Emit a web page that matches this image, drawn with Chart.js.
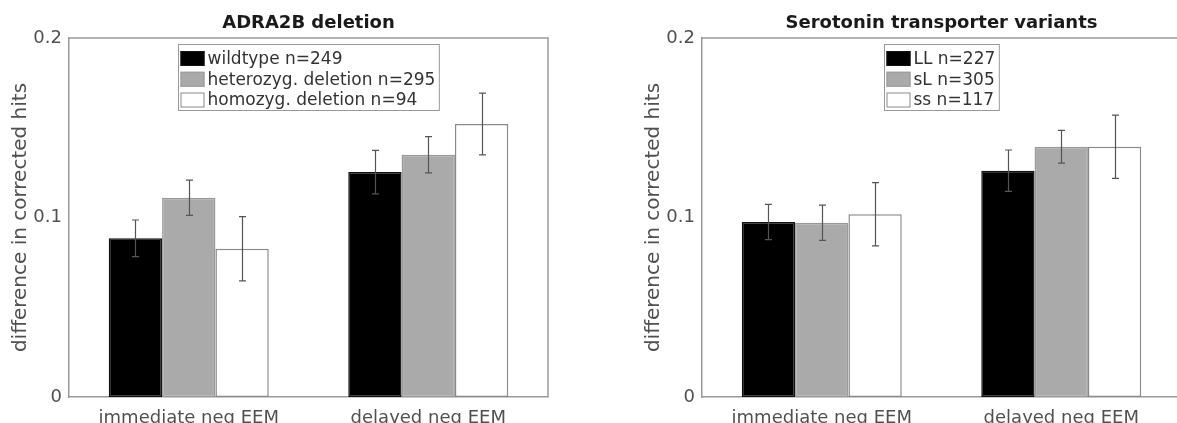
<!DOCTYPE html>
<html><head><meta charset="utf-8">
<script src="https://cdn.jsdelivr.net/npm/chart.js@4/dist/chart.umd.min.js"></script>
<style>
html,body{margin:0;padding:0;background:#fff;overflow:hidden;width:1177px;height:423px;}
#wrap{position:relative;width:1177px;height:423px;overflow:hidden;background:#fff;}
#c1{position:absolute;left:0;top:0;}
#c2{position:absolute;left:633px;top:0;}
</style></head><body>
<div id="wrap"><canvas id="c1" width="633" height="423"></canvas><canvas id="c2" width="633" height="423"></canvas></div>
<script>
const categories = ['immediate neg EEM', 'delayed neg EEM'];
const yTicks = [0, 0.1, 0.2];
const yLabel = 'difference in corrected hits';

const titleA = 'ADRA2B deletion';
const labelsA = ['wildtype n=249', 'heterozyg. deletion n=295', 'homozyg. deletion n=94'];
const wildtype = [0.0884, 0.1253];
const heterozyg = [0.1110, 0.1350];
const homozyg = [0.0826, 0.1521];
const wildtypeErr = [0.0102, 0.0121];
const heterozygErr = [0.0098, 0.0101];
const homozygErr = [0.0179, 0.0172];

const titleB = 'Serotonin transporter variants';
const labelsB = ['LL n=227', 'sL n=305', 'ss n=117'];
const LL = [0.0975, 0.1261];
const sL = [0.0971, 0.1394];
const ss = [0.1018, 0.1394];
const LLErr = [0.0098, 0.0115];
const sLErr = [0.0098, 0.0091];
const ssErr = [0.0176, 0.0176];

const FONT = 'DejaVu Sans';
const AXIS = '#9a9a9a';
const TXT = '#505050';
const fills = ['#000000', '#aaaaaa', '#ffffff'];
const edges = ['#111111', '#999999', '#8a8a8a'];

const decor = {
  id: 'decor',
  afterDatasetsDraw(chart, args, opts) {
    const ctx = chart.ctx, ys = chart.scales.y;
    ctx.save();
    ctx.strokeStyle = '#555';
    ctx.lineWidth = 1.2;
    chart.data.datasets.forEach((ds, i) => {
      const meta = chart.getDatasetMeta(i);
      meta.data.forEach((el, j) => {
        const v = ds.data[j], e = ds.err[j];
        const x = Math.round(el.x) + 0.5;
        const y1 = ys.getPixelForValue(v + e), y2 = ys.getPixelForValue(v - e);
        ctx.beginPath();
        ctx.moveTo(x, y1); ctx.lineTo(x, y2);
        ctx.moveTo(x - 3.5, y1); ctx.lineTo(x + 3.5, y1);
        ctx.moveTo(x - 3.5, y2); ctx.lineTo(x + 3.5, y2);
        ctx.stroke();
      });
    });
    ctx.restore();
  },
  afterDraw(chart, args, opts) {
    const ctx = chart.ctx, ca = chart.chartArea;
    ctx.save();
    ctx.strokeStyle = AXIS; ctx.lineWidth = 1.5;
    ctx.beginPath();
    ctx.moveTo(ca.left, ca.top); ctx.lineTo(ca.right, ca.top); ctx.lineTo(ca.right, ca.bottom);
    ctx.stroke();
    const cx = (ca.left + ca.right) / 2;
    ctx.fillStyle = '#1a1a1a';
    ctx.font = 'bold 18px "' + FONT + '"';
    ctx.textAlign = 'center'; ctx.textBaseline = 'middle';
    ctx.fillText(opts.title, cx, 23);
    ctx.font = '17px "' + FONT + '"';
    const labels = chart.data.datasets.map(d => d.label);
    const maxW = Math.max(...labels.map(t => ctx.measureText(t).width));
    const bw = 30 + maxW + 3, bh = 66;
    const bx = Math.round(cx - bw / 2) + 0.5, by = 44.5;
    ctx.fillStyle = '#fff';
    ctx.fillRect(bx, by, bw, bh);
    ctx.strokeStyle = '#999'; ctx.lineWidth = 1;
    ctx.strokeRect(bx, by, bw, bh);
    ctx.textAlign = 'left';
    labels.forEach((t, i) => {
      const ry = by + 14 + i * 20.75;
      ctx.fillStyle = fills[i];
      ctx.fillRect(bx + 2, ry - 7.5, 24, 15);
      ctx.strokeStyle = edges[i]; ctx.lineWidth = 1;
      ctx.strokeRect(bx + 2.5, ry - 7, 23, 14);
      ctx.fillStyle = '#333';
      ctx.fillText(t, bx + 29, ry + 1);
    });
    ctx.restore();
  }
};

function makeChart(id, title, labels, vals, errs) {
  const datasets = labels.map((l, i) => ({
    label: l,
    data: vals[i],
    err: errs[i],
    backgroundColor: fills[i],
    borderColor: edges[i],
    borderWidth: 1.5,
    borderSkipped: false,
    barPercentage: 1,
    categoryPercentage: 0.668
  }));
  return new Chart(document.getElementById(id), {
    type: 'bar',
    data: { labels: categories, datasets },
    plugins: [decor],
    options: {
      responsive: false,
      animation: false,
      layout: { padding: { left: 0, top: 38, right: 85, bottom: 0 } },
      plugins: {
        legend: { display: false },
        tooltip: { enabled: false },
        title: { display: false },
        decor: { title: title }
      },
      scales: {
        x: {
          grid: { display: false, drawTicks: false },
          border: { display: true, color: AXIS, width: 1.5 },
          ticks: { font: { family: FONT, size: 18 }, color: TXT, padding: 11, maxRotation: 0 },
          afterFit(s) { s.height = 26; }
        },
        y: {
          min: 0, max: 0.2,
          afterBuildTicks(s) { s.ticks = yTicks.map(v => ({ value: v })); },
          grid: { display: false, drawTicks: false },
          border: { display: true, color: AXIS, width: 1.5 },
          ticks: { font: { family: FONT, size: 18 }, color: TXT, padding: 7 },
          title: { display: true, text: yLabel, font: { family: FONT, size: 20 }, color: TXT, padding: { top: 9, bottom: 0 } },
          afterFit(s) { s.width = 69; }
        }
      }
    }
  });
}

makeChart('c1', titleA, labelsA, [wildtype, heterozyg, homozyg], [wildtypeErr, heterozygErr, homozygErr]);
makeChart('c2', titleB, labelsB, [LL, sL, ss], [LLErr, sLErr, ssErr]);
</script>
</body></html>
